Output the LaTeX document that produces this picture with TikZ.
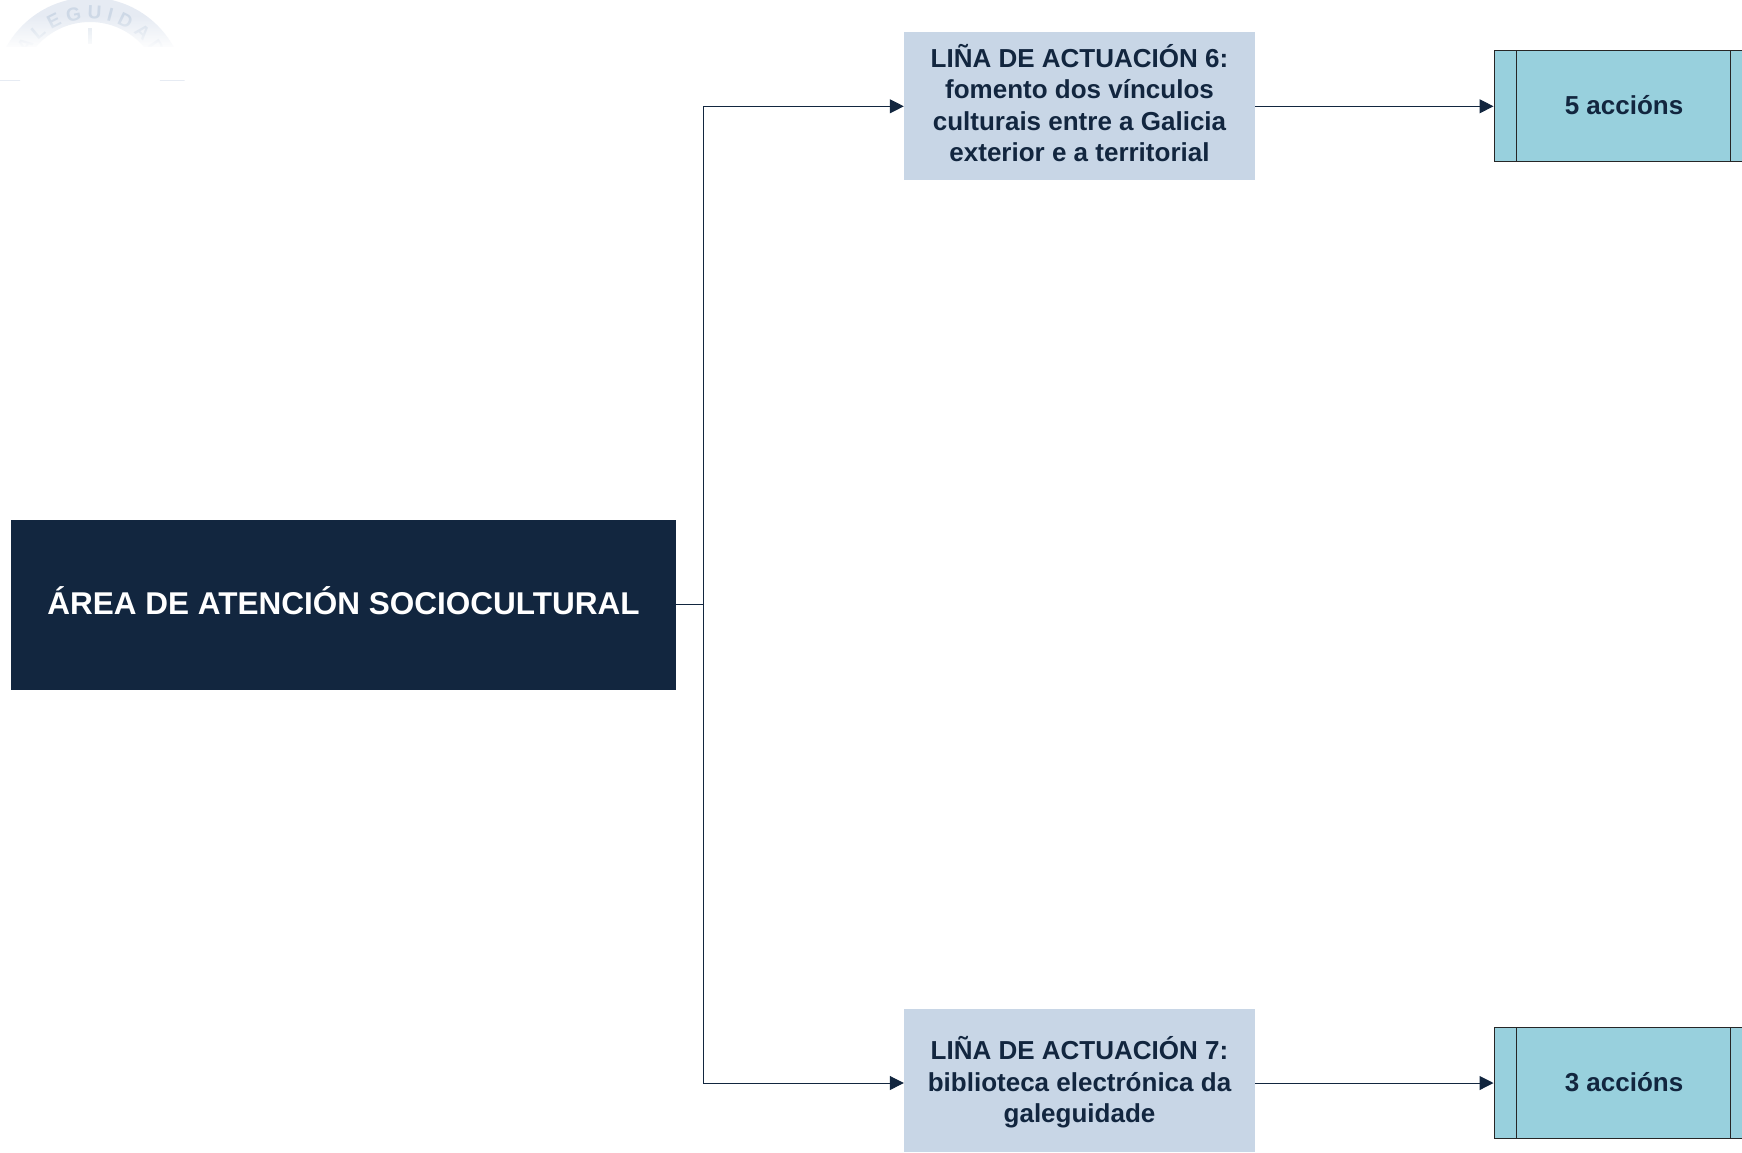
\documentclass[tikz,border=0pt]{standalone}
\usepackage{fontspec}
\setmainfont{Liberation Sans}
\usetikzlibrary{arrows.meta,fadings,decorations.text}
\definecolor{navy}{HTML}{12263F}
\definecolor{pale}{HTML}{C8D6E6}
\definecolor{teal}{HTML}{98D0DD}
\definecolor{sealc}{HTML}{E6EBF3}
\definecolor{sealt}{HTML}{CDD8E6}
\tikzset{x=1pt,y=-1pt,
 conn/.style={draw=navy,line width=1pt,-{Triangle[length=14pt,width=14pt,fill=navy]}},
 plainconn/.style={draw=navy,line width=1pt},
 main/.style={fill=navy,text=white,inner sep=0pt,font=\bfseries\fontsize{31.5}{37}\selectfont,align=center},
 linebox/.style={fill=pale,text=navy,inner sep=0pt,font=\bfseries\fontsize{26}{31.3}\selectfont,align=center},
 act/.style={fill=teal,text=navy,draw=black!85,line width=1pt,inner sep=0pt,font=\bfseries\fontsize{26}{31}\selectfont},
 sep/.style={draw=black!85,line width=1pt}}
\begin{document}
\begin{tikzpicture}
\useasboundingbox (0,0) rectangle (1742,1152);
\begin{scope}
\clip (0,0) rectangle (1742,1152);
% faint seal, top left
\begin{scope}
\clip (0,0) rectangle (200,80);
\fill[sealc,even odd rule] (90,93) circle (95.5) (90,93) circle (71);
\path[postaction={decorate,decoration={text along path,text align=center,
  text={|\fontsize{19}{19}\selectfont\bfseries\color{sealt}|G A L E G U I D A D E}}}]
  (16,93) arc[start angle=180,end angle=360,radius=74];
\fill[sealt!70] (88,28) rectangle (92,44);
\fill[white,path fading=north] (-5,15) rectangle (205,50);
\fill[white] (-5,47) rectangle (205,80);
\end{scope}
\node[main,minimum width=665,minimum height=170] (area) at (343.5,605) {\raisebox{9.6pt}{ÁREA DE ATENCIÓN SOCIOCULTURAL}};
\node[linebox,minimum width=351,minimum height=148] (l6) at (1079.5,106) {LIÑA DE ACTUACIÓN 6:\\fomento dos vínculos\\culturais entre a Galicia\\exterior e a territorial\rule[-6pt]{0pt}{0pt}};
\node[linebox,minimum width=351,minimum height=143] (l7) at (1079.5,1080.5) {\rule{0pt}{26.5pt}LIÑA DE ACTUACIÓN 7:\\biblioteca electrónica da\\galeguidade};
\node[act,minimum width=260,minimum height=111] (a5) at (1624,106.3) {\raisebox{3pt}{5 accións}};
\node[act,minimum width=260,minimum height=111] (a7) at (1624,1083) {\raisebox{3pt}{3 accións}};
\draw[sep] (1516,51) -- (1516,162);
\draw[sep] (1730,51) -- (1730,162);
\draw[sep] (1516,1028) -- (1516,1139);
\draw[sep] (1730,1028) -- (1730,1139);
\coordinate (bus) at (703.5,604);
\draw[plainconn] (area.east |- bus) -- (bus);
\draw[conn] (bus) |- (l6.west |- a5.west);
\draw[conn] (bus) |- (l7.west |- a7.west);
\draw[conn] (l6.east |- a5.west) -- (a5.west);
\draw[conn] (l7.east |- a7.west) -- (a7.west);
\end{scope}
\end{tikzpicture}
\end{document}
